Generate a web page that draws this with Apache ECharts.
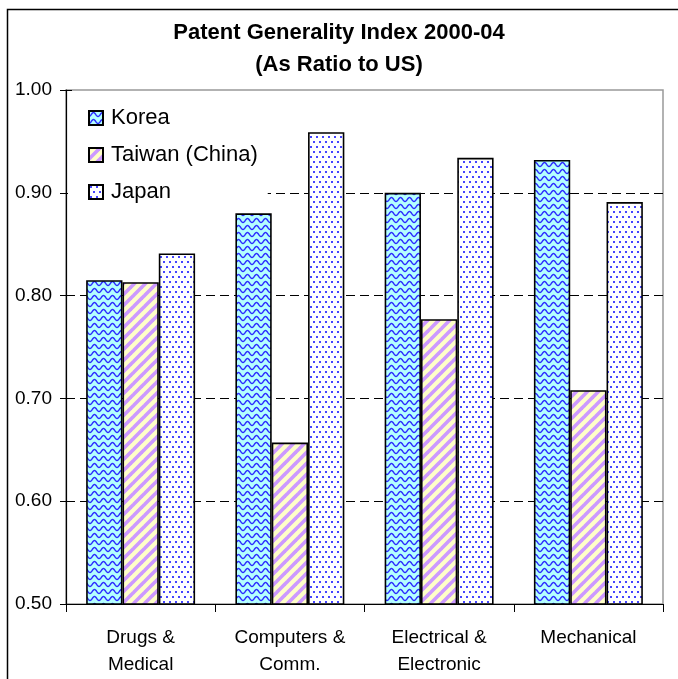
<!DOCTYPE html>
<html>
<head>
<meta charset="utf-8">
<script src="https://cdn.jsdelivr.net/npm/echarts@6/dist/echarts.min.js"></script>
<style>
html,body{margin:0;padding:0;background:#fff;}
#c{width:678px;height:679px;}
</style>
</head>
<body>
<div id="c"></div>
<script>
const categories = ['Drugs &\nMedical', 'Computers &\nComm.', 'Electrical &\nElectronic', 'Mechanical'];
const seriesNames = ['Korea', 'Taiwan (China)', 'Japan'];
const korea = [0.815, 0.880, 0.900, 0.932];
const taiwan = [0.813, 0.657, 0.777, 0.708];
const japan = [0.841, 0.959, 0.934, 0.891];
const titleText = 'Patent Generality Index 2000-04\n(As Ratio to US)';

function makeCanvas(w, h, draw) {
  const c = document.createElement('canvas');
  c.width = w; c.height = h;
  draw(c.getContext('2d'), w, h);
  return c;
}
const wave = makeCanvas(9, 7, (g, w, h) => {
  g.fillStyle = '#b4ffff'; g.fillRect(0, 0, w, h);
  g.strokeStyle = '#2c2cff'; g.lineWidth = 1.5;
  g.beginPath();
  for (let x = -1; x <= w + 1; x += 0.5) {
    const y = 3.5 + 2 * Math.cos(2 * Math.PI * x / w);
    if (x === -1) g.moveTo(x, y); else g.lineTo(x, y);
  }
  g.stroke();
});
const stripes = makeCanvas(11, 11, (g, w, h) => {
  g.fillStyle = '#ffffc8'; g.fillRect(0, 0, w, h);
  g.strokeStyle = '#cc99ff'; g.lineWidth = 3.6;
  [[0, 11, 11, 0], [-5.5, 5.5, 5.5, -5.5], [5.5, 16.5, 16.5, 5.5]].forEach(l => {
    g.beginPath(); g.moveTo(l[0], l[1]); g.lineTo(l[2], l[3]); g.stroke();
  });
});
const dots = makeCanvas(6, 10, (g, w, h) => {
  g.fillStyle = '#ffffff'; g.fillRect(0, 0, w, h);
  g.fillStyle = '#4444ff';
  g.fillRect(1, 1, 2, 2);
  g.fillRect(4, 6, 2, 2);
});

const patterns = [wave, stripes, dots];
const dataSets = [korea, taiwan, japan];
const FONT = '"Liberation Sans", Arial, sans-serif';

const chart = echarts.init(document.getElementById('c'), null, {renderer: 'canvas'});
chart.setOption({
  animation: false,
  backgroundColor: '#fff',
  title: {
    text: titleText,
    left: 'center', top: 12,
    textStyle: {fontFamily: FONT, fontWeight: 'bold', fontSize: 22, color: '#000', lineHeight: 32}
  },
  legend: {
    orient: 'vertical', left: 68, top: 99,
    padding: [8, 10, 8, 20],
    backgroundColor: '#fff',
    itemWidth: 14, itemHeight: 14, itemGap: 15,
    icon: 'rect',
    textStyle: {fontFamily: FONT, fontSize: 22, color: '#000', padding: [0, 0, 0, 3]},
    data: seriesNames
  },
  grid: {left: 66, right: 15, top: 90, bottom: 75, show: true, borderColor: '#999', borderWidth: 1.5, containLabel: false},
  xAxis: {
    type: 'category', data: categories,
    axisLine: {lineStyle: {color: '#000', width: 1.2}},
    axisTick: {show: true, length: 8, lineStyle: {color: '#000'}},
    axisLabel: {fontFamily: FONT, fontSize: 19, color: '#000', margin: 20, lineHeight: 27, interval: 0}
  },
  yAxis: [{
    type: 'value', min: 0.5, max: 1.0, interval: 0.1,
    axisLine: {show: true, lineStyle: {color: '#000', width: 1.2}},
    axisTick: {show: true, length: 6, lineStyle: {color: '#000'}},
    axisLabel: {fontFamily: FONT, fontSize: 19, color: '#000', margin: 14, formatter: v => v.toFixed(2)},
    splitLine: {show: true, showMinLine: false, showMaxLine: false, lineStyle: {color: '#000', type: [9, 5], width: 1}}
  }, {
    type: 'value', min: 0.5, max: 1.0, interval: 0.1, position: 'left',
    axisLine: {show: false},
    axisTick: {show: true, inside: true, length: 6, lineStyle: {color: '#000'}},
    axisLabel: {show: false},
    splitLine: {show: false}
  }],
  series: seriesNames.map((n, i) => ({
    name: n, type: 'bar', data: dataSets[i], yAxisIndex: 0,
    barGap: '0%', barCategoryGap: '27%',
    itemStyle: {color: {image: patterns[i], repeat: 'repeat'}, borderColor: '#000', borderWidth: 1.6}
  })),
  graphic: [{
    type: 'rect', shape: {x: 7.5, y: 9.5, width: 700, height: 700},
    style: {fill: 'none', stroke: '#000', lineWidth: 1.5}, silent: true, z: 100
  }]
});
</script>
</body>
</html>
